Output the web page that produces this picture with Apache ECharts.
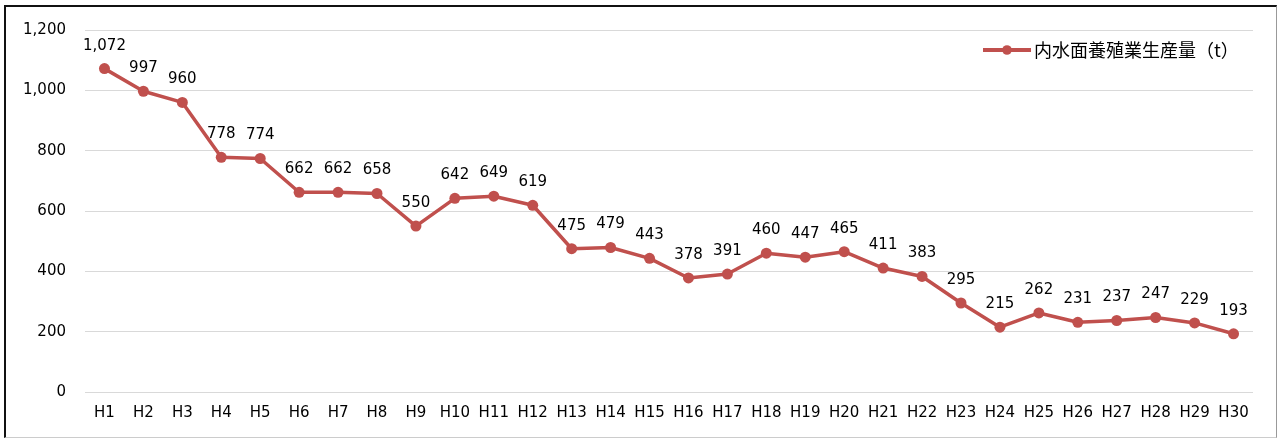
<!DOCTYPE html>
<html>
<head>
<meta charset="utf-8">
<script src="https://cdn.jsdelivr.net/npm/echarts@6/dist/echarts.min.js"></script>
<style>
  html, body { margin: 0; padding: 0; background: #fff; }
  #frame {
    position: absolute; left: 4px; top: 5px; width: 1270px; height: 430px;
    border-left: 2px solid #111; border-top: 2px solid #111;
    border-right: 1px solid #999; border-bottom: 1px solid #ccc;
  }
  #chart { position: absolute; left: 0; top: 0; width: 1279px; height: 438px; }
</style>
</head>
<body>
<div id="frame"></div>
<div id="chart"></div>
<script>
const years = ["H1","H2","H3","H4","H5","H6","H7","H8","H9","H10","H11","H12","H13","H14","H15",
               "H16","H17","H18","H19","H20","H21","H22","H23","H24","H25","H26","H27","H28","H29","H30"];
const production = [1072, 997, 960, 778, 774, 662, 662, 658, 550, 642, 649, 619, 475, 479, 443,
                    378, 391, 460, 447, 465, 411, 383, 295, 215, 262, 231, 237, 247, 229, 193];
const seriesName = "内水面養殖業生産量（t）";

const numFont = "'DejaVu Sans', sans-serif";
const cjkFont = "'Noto Sans CJK JP', sans-serif";
const chart = echarts.init(document.getElementById("chart"));
chart.setOption({
    animation: false,
    textStyle: { fontFamily: numFont },
    grid: { left: 85, right: 26, top: 30, bottom: 46, containLabel: false },
    legend: {
        data: [seriesName],
        left: 976,
        top: 36,
        itemWidth: 48,
        itemHeight: 12,
        itemGap: 4,
        lineStyle: { width: 4 },
        itemStyle: { borderWidth: 0 },
        textStyle: { fontSize: 18, color: "#000", fontFamily: cjkFont, padding: [0, 0, 0, -2] }
    },
    xAxis: {
        type: "category",
        data: years,
        boundaryGap: true,
        axisLine: { show: false },
        axisTick: { show: false },
        axisLabel: { color: "#000", fontSize: 15, margin: 14, interval: 0, fontFamily: numFont }
    },
    yAxis: {
        type: "value",
        min: 0,
        max: 1200,
        interval: 200,
        axisLine: { show: false },
        axisTick: { show: false },
        splitLine: { lineStyle: { color: "#d9d9d9", width: 1 } },
        axisLabel: {
            color: "#000",
            fontSize: 15,
            margin: 19,
            fontFamily: numFont,
            formatter: v => v.toLocaleString("en-US")
        }
    },
    series: [{
        name: seriesName,
        type: "line",
        data: production,
        symbol: "circle",
        symbolSize: 11,
        lineStyle: { color: "#c0504d", width: 3.5 },
        itemStyle: { color: "#c0504d" },
        label: {
            show: true,
            position: "top",
            distance: 10,
            color: "#000",
            fontSize: 15,
            fontFamily: numFont,
            formatter: p => p.value.toLocaleString("en-US")
        }
    }]
});
</script>
</body>
</html>
